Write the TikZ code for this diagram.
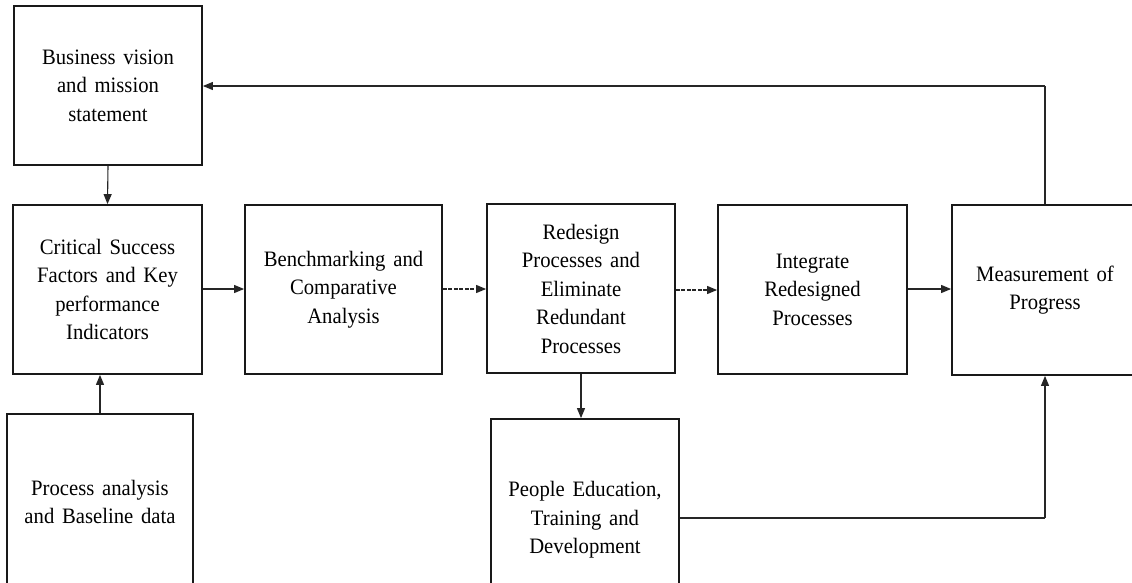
\documentclass[tikz,border=0pt]{standalone}
\usepackage{fontspec}
\setmainfont{Liberation Serif}[FakeStretch=0.94, WordSpace=1.5]
\usetikzlibrary{arrows.meta}
\begin{document}
\begin{tikzpicture}[x=1pt,y=-1pt,
  box/.style={draw=black!90, line width=1.8pt, rectangle, align=center,
    font=\fontsize{22}{28.5}\selectfont, inner sep=0pt},
  link/.style={line width=1.1pt, draw=black!85,
    -{Triangle[length=10pt,width=8pt]}},
  dashlink/.style={link, dash pattern=on 4pt off 1.5pt},
  plain/.style={line width=1.1pt, draw=black!85}]
\useasboundingbox (0,0) rectangle (1132,582);
\clip (0,0) rectangle (1132,582);
\fill[white] (0,0) rectangle (1132,582);

% process boxes
\node[box, minimum width=188pt, minimum height=159pt] (vision) at (108,85.5)
  {Business vision\\and mission\\statement};
\node[box, minimum width=189pt, minimum height=169pt] (csf) at (107.5,289.5)
  {Critical Success\\Factors and Key\\performance\\Indicators};
\node[box, minimum width=186pt, minimum height=176pt] (base) at (100,502)
  {Process analysis\\and Baseline data};
\node[box, minimum width=197pt, minimum height=169pt] (bench) at (343.5,289.5)
  {Benchmarking and\\Comparative\\Analysis};
\node[box, minimum width=188pt, minimum height=169pt] (redesign) at (581,288.5)
  {Redesign\\Processes and\\Eliminate\\Redundant\\Processes};
\node[box, minimum width=188pt, minimum height=202pt] (people) at (585,520)
  {People Education,\\Training and\\Development};
\node[box, minimum width=189pt, minimum height=169pt] (integ) at (812.5,289.5)
  {Integrate\\Redesigned\\Processes};
\node[box, minimum width=186pt, minimum height=170pt] (measure) at (1045,290)
  {Measurement of\\Progress};

% turning points of the routed connectors
\coordinate (fbtop) at (1045,86);
\coordinate (pplturn) at (1045,518);

% connectors
\draw[link] (vision.south) -- (csf.north);
\draw[link] (base.north) -- (base.north |- csf.south);
\draw[link] (csf.east |- 0,289) -- (bench.west |- 0,289);
\draw[dashlink] (bench.east |- 0,289) -- (redesign.west |- 0,289);
\draw[dashlink] (redesign.east |- 0,290) -- (integ.west |- 0,290);
\draw[link] (integ.east |- 0,289) -- (measure.west |- 0,289);
\draw[link] (redesign.south) -- (redesign.south |- people.north);
\draw[plain] (people.east |- pplturn) -- (pplturn);
\draw[link] (pplturn) -- (measure.south);
\draw[plain] (measure.north) -- (fbtop);
\draw[link] (fbtop) -- (vision.east |- fbtop);
\end{tikzpicture}
\end{document}
